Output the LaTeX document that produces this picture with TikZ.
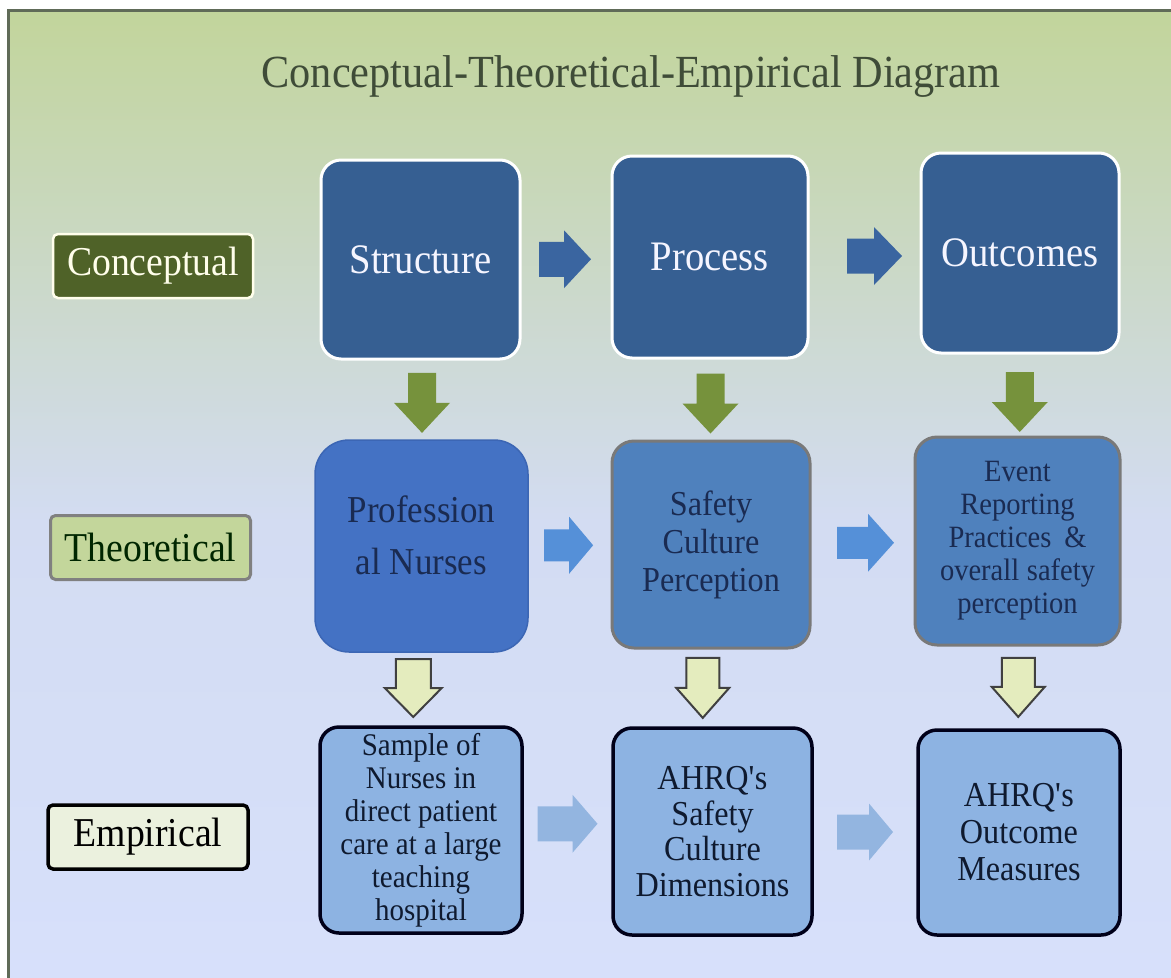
\documentclass[tikz,border=0pt]{standalone}
\usepackage{fontspec}
\setmainfont[FakeStretch=0.92]{Liberation Serif}
\usetikzlibrary{calc}
\definecolor{bgA}{HTML}{C2D59B}
\definecolor{bgB}{HTML}{CAD7C6}
\definecolor{bgC}{HTML}{D3DCF2}
\definecolor{bgD}{HTML}{D7E0FB}
\definecolor{frameC}{HTML}{606B58}
\definecolor{titleC}{HTML}{3F4C38}
\definecolor{rowA}{HTML}{365F92}
\definecolor{arrA}{HTML}{3A65A0}
\definecolor{grnA}{HTML}{76923C}
\definecolor{concC}{HTML}{4F6228}
\definecolor{theoC}{HTML}{C3D69B}
\definecolor{empC}{HTML}{EBF1DE}
\definecolor{profC}{HTML}{4472C4}
\definecolor{profB}{HTML}{3C66B4}
\definecolor{safC}{HTML}{4F81BD}
\definecolor{arrB}{HTML}{5590D8}
\definecolor{rowC}{HTML}{8DB3E2}
\definecolor{arrC}{HTML}{93B5E0}
\definecolor{holC}{HTML}{E4ECBE}
\definecolor{navyT}{HTML}{1A2B52}
\definecolor{darkT}{HTML}{0F1A2F}
\newcommand\rightblock[6]{%
  \begin{scope}[shift={(#1)}]
    \path[#6] (-#2/2,-#3/2) -- (#2/2-#5,-#3/2) -- (#2/2-#5,-#4/2) -- (#2/2,0)
      -- (#2/2-#5,#4/2) -- (#2/2-#5,#3/2) -- (-#2/2,#3/2) -- cycle;
  \end{scope}}
\newcommand\downblock[6]{%
  \begin{scope}[shift={(#1)}]
    \path[#6] (-#3/2,-#2/2) -- (-#3/2,#2/2-#5) -- (-#4/2,#2/2-#5) -- (0,#2/2)
      -- (#4/2,#2/2-#5) -- (#3/2,#2/2-#5) -- (#3/2,-#2/2) -- cycle;
  \end{scope}}
\begin{document}
\begin{tikzpicture}[x=1pt,y=-1pt,
  lab/.style={rectangle, rounded corners=5pt, minimum width=200pt, minimum height=64pt, inner sep=0pt, font=\fontsize{41}{46}\selectfont},
  topbox/.style={rectangle, rounded corners=20pt, inner sep=0pt, fill=rowA, draw=white, line width=3pt, text=white!96!blue, font=\fontsize{42}{48}\selectfont},
  midbox/.style={rectangle, rounded corners=22pt, inner sep=0pt, fill=safC, draw=gray!95!black, line width=3pt, text=navyT, align=center},
  lowbox/.style={rectangle, rounded corners=19pt, inner sep=0pt, fill=rowC, draw=black!90!blue, line width=3.5pt, text=darkT, align=center},
  txt/.style={inner sep=0pt, align=center},
]
\useasboundingbox (0,0) rectangle (1171,978);
\fill[white] (0,0) rectangle (1171,978);
\shade[top color=bgA, middle color=bgB, bottom color=bgC] (8,10) rectangle (1171,521);
\shade[top color=bgC, bottom color=bgD] (8,520) rectangle (1171,978);
\draw[frameC, line width=3pt] (8,978) -- (8,10) -- (1171,10);

\node[txt, text=titleC, font=\fontsize{46}{52}\selectfont, anchor=base] (title) at (631,87) {Conceptual-Theoretical-Empirical Diagram};

% row labels
\node[lab, fill=concC, draw=white!92!yellow, line width=2.5pt, text=white!92!yellow] (conc) at (153,266) {Conceptual};
\node[lab, fill=theoC, draw=gray, line width=3pt, text=black!85!green] (theo) at (150.5,547.5) {Theoretical};
\node[lab, fill=empC, draw=black, line width=3.5pt, text=black] (emp) at (148,837) {Empirical};

% row 1
\node[topbox, minimum width=199pt, minimum height=199pt] (str) at (420.5,259.5) {Structure};
\node[topbox, minimum width=196pt, minimum height=202pt] (pro) at (710,257) {Process};
\node[topbox, minimum width=198pt, minimum height=200pt] (out) at (1020,253) {Outcomes};

% row 2
\node[rectangle, rounded corners=34pt, minimum width=213pt, minimum height=212pt, fill=profC, draw=profB, line width=1.5pt] (prof) at (421.5,546) {};
\node[txt, text=navyT, font=\fontsize{38}{52}\selectfont] (proft) at ($(prof.center)+(0,-11)$) {Profession\\al Nurses};
\node[midbox, minimum width=198pt, minimum height=207pt, font=\fontsize{35}{38}\selectfont] (saf) at (711,544.5) {Safety\\Culture\\Perception};
\node[midbox, minimum width=205pt, minimum height=208pt, font=\fontsize{31}{33}\selectfont] (evt) at (1017.5,541) {Event\\Reporting\\\makebox[138pt][s]{Practices \&}\\\makebox[155pt][s]{overall safety}\\perception};

% row 3
\node[lowbox, minimum width=202pt, minimum height=206pt, font=\fontsize{31.5}{33}\selectfont] (sam) at (421,830) {Sample of\\Nurses in\\direct patient\\care at a large\\teaching\\hospital};
\node[lowbox, minimum width=199pt, minimum height=207pt, font=\fontsize{35}{35.5}\selectfont] (ahs) at (712.5,831.5) {AHRQ\textquotesingle s\\Safety\\Culture\\Dimensions};
\node[lowbox, minimum width=202pt, minimum height=205pt, font=\fontsize{35}{37}\selectfont] (aho) at (1019,832.5) {AHRQ\textquotesingle s\\Outcome\\Measures};

% arrow positions
\coordinate (a1) at ($(str.east)!0.5!(pro.west)+(-1,1)$);
\coordinate (a2) at ($(pro.east)!0.5!(out.west)+(10,1)$);
\coordinate (g1) at ($(str.south)!0.5!(prof.north)+(1,3)$);
\coordinate (g2) at ($(pro.south)!0.5!(saf.north)+(0,4)$);
\coordinate (g3) at ($(out.south)!0.5!(evt.north)+(1,7)$);
\coordinate (b1) at ($(prof.east)!0.5!(saf.west)+(-1,0)$);
\coordinate (b2) at ($(saf.east)!0.5!(evt.west)+(3,0)$);
\coordinate (h1) at ($(prof.south)!0.5!(sam.north)+(-8,-1)$);
\coordinate (h2) at ($(saf.south)!0.5!(ahs.north)+(-9,0)$);
\coordinate (h3) at ($(evt.south)!0.5!(aho.north)+(0,0)$);
\coordinate (r1) at ($(sam.east)!0.5!(ahs.west)+(0,-7)$);
\coordinate (r2) at ($(ahs.east)!0.5!(aho.west)+(0,0)$);

\rightblock{a1}{52}{35}{58}{27}{fill=arrA}
\rightblock{a2}{55}{35}{58}{28}{fill=arrA}
\downblock{g1}{60}{28}{56}{30}{fill=grnA}
\downblock{g2}{60}{28}{56}{30}{fill=grnA}
\downblock{g3}{60}{28}{56}{30}{fill=grnA}
\rightblock{b1}{49}{32}{57}{24}{fill=arrB}
\rightblock{b2}{57}{32}{58}{26}{fill=arrB}
\downblock{h1}{58}{35}{57}{29}{fill=holC, draw=black!75, line width=2pt}
\downblock{h2}{60}{33}{53}{30}{fill=holC, draw=black!75, line width=2pt}
\downblock{h3}{59}{33}{53}{30}{fill=holC, draw=black!75, line width=2pt}
\rightblock{r1}{60}{35}{58}{25}{fill=arrC}
\rightblock{r2}{56}{35}{57}{24}{fill=arrC}
\end{tikzpicture}
\end{document}
